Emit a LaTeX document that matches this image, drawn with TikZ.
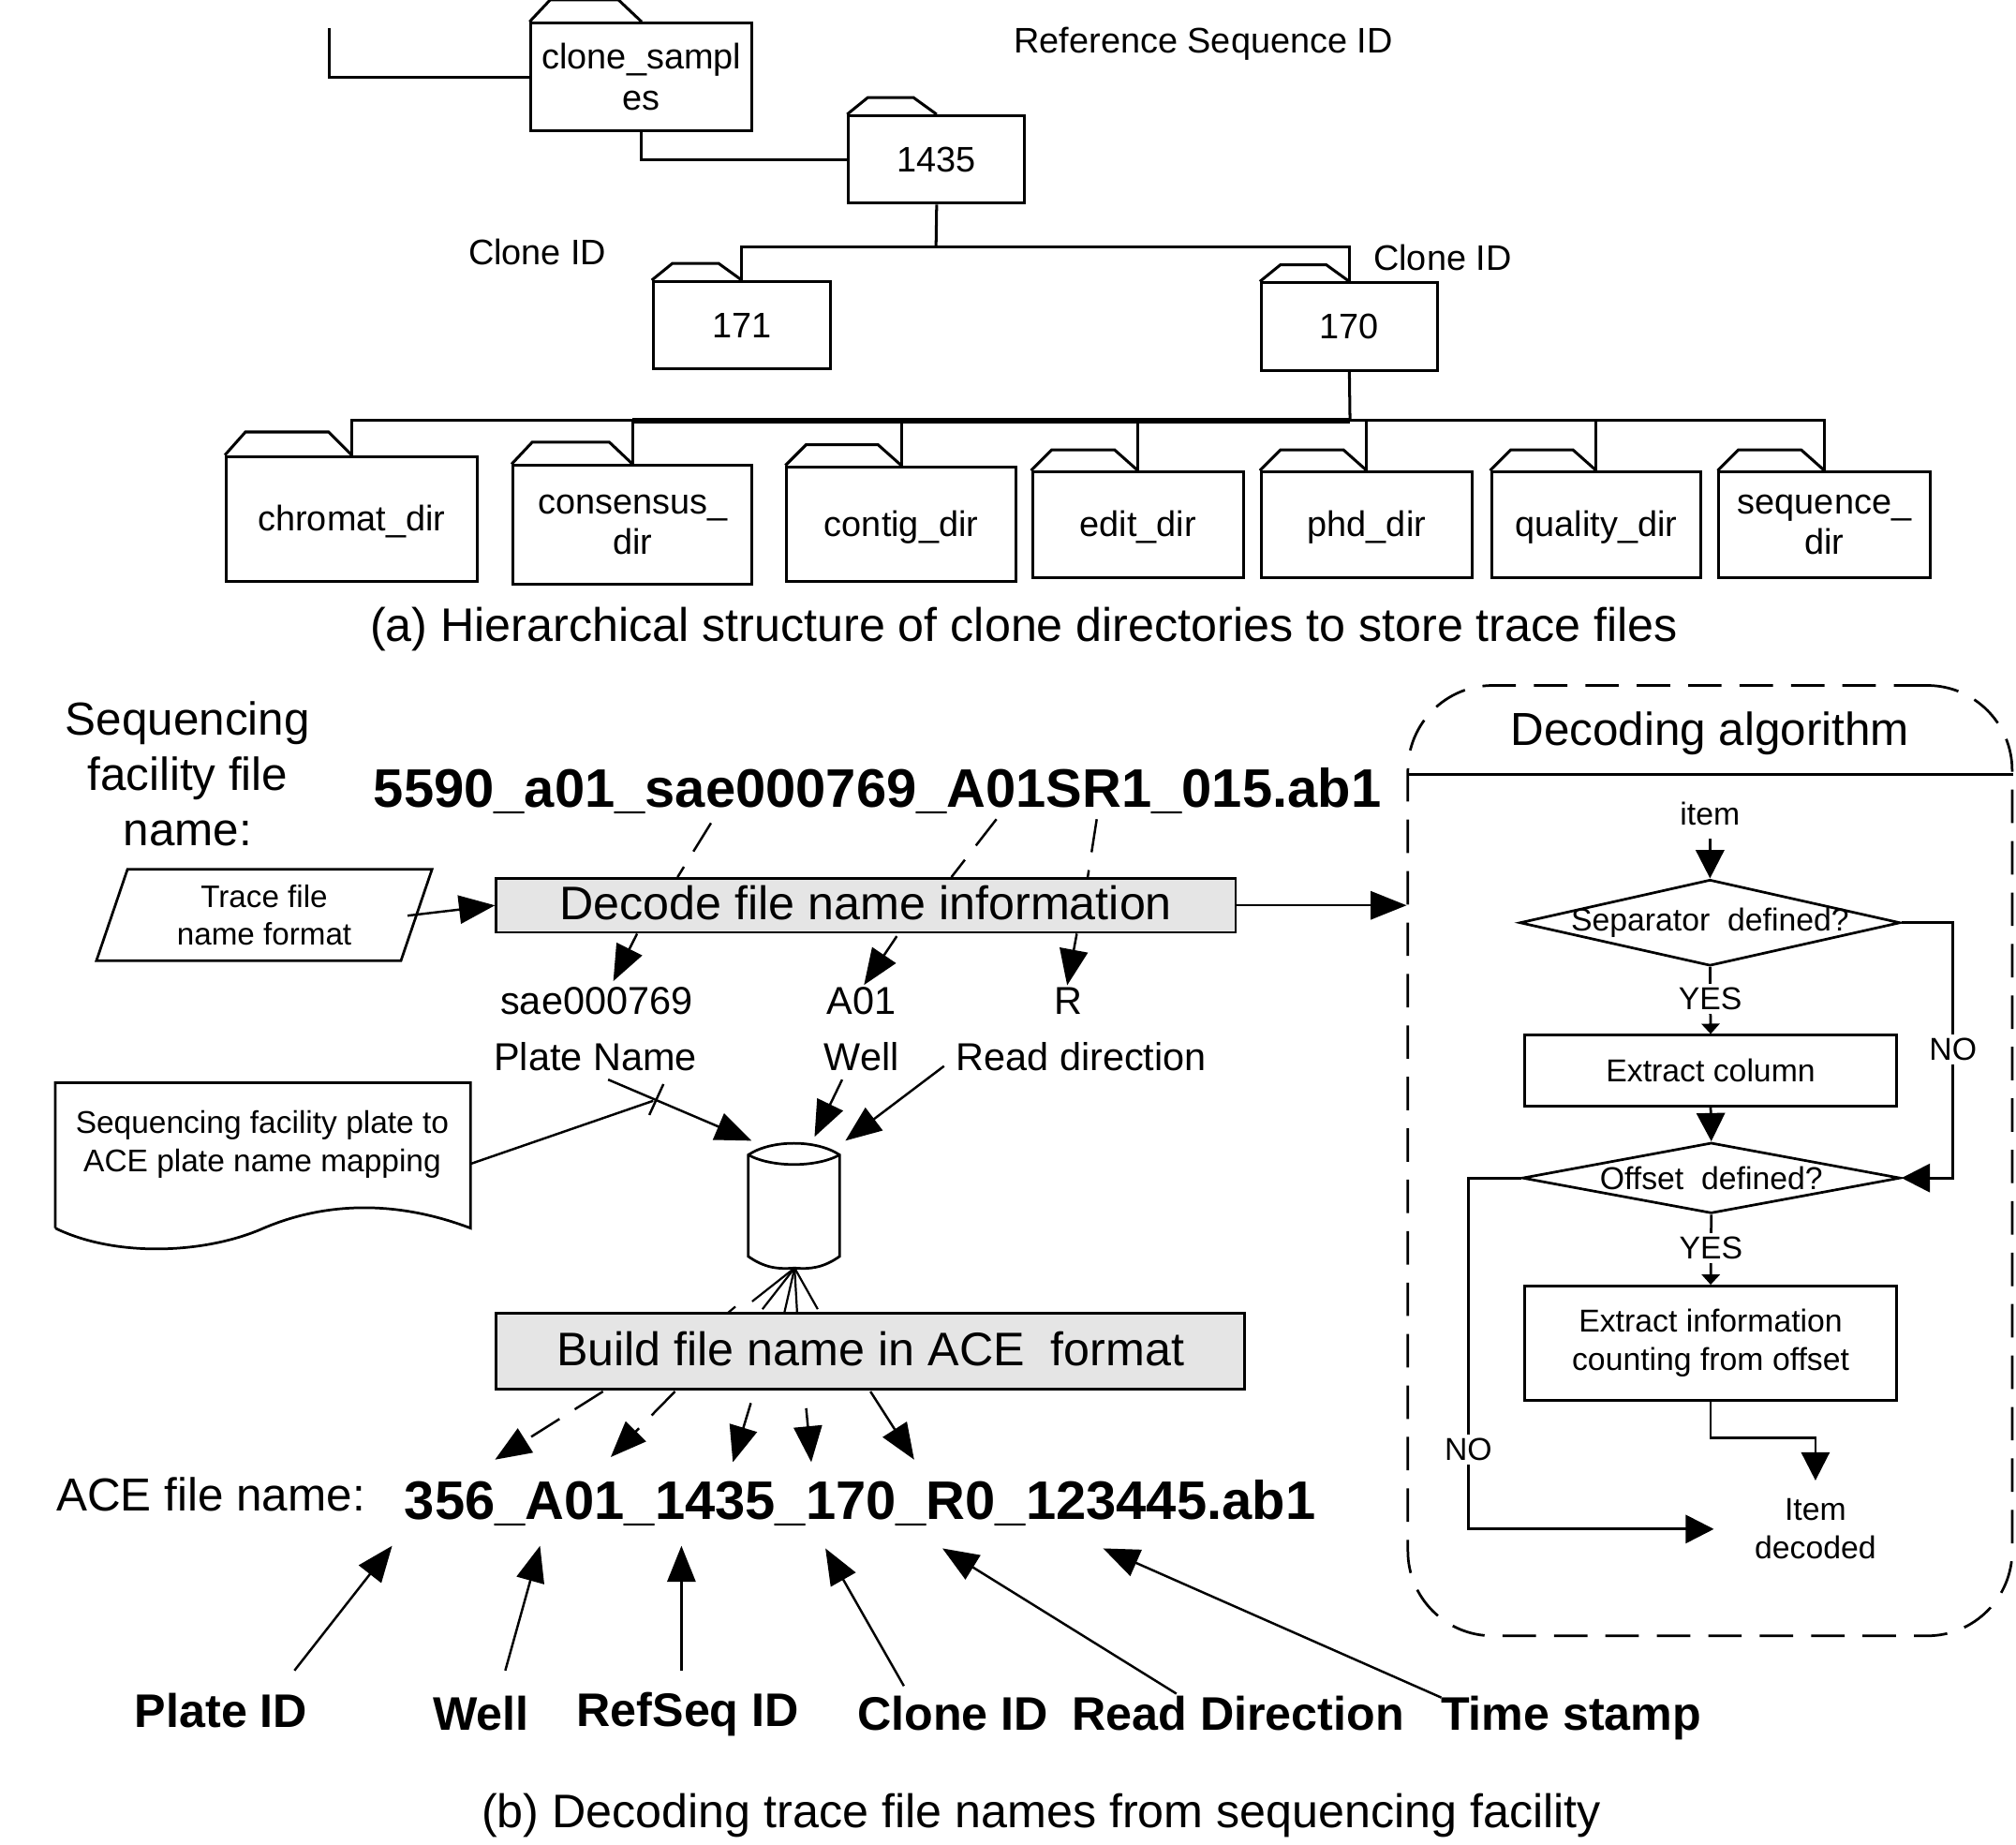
\documentclass[tikz,border=0pt]{standalone}
\usepackage{fontspec}
\setmainfont{Liberation Sans}
\usetikzlibrary{arrows.meta,calc,positioning,shapes.geometric}
\tikzset{
  every picture/.append style={line join=miter},
  dir box/.style={draw,line width=1.1pt,align=center,inner sep=0pt,font=\fontsize{13.8}{16}\selectfont},
  one line/.style={text height=12pt,text depth=2.6pt},
  dir line/.style={line width=1.1pt},
  plain text/.style={inner sep=0pt,align=center,font=\fontsize{13.8}{16}\selectfont},
  data text/.style={inner sep=0pt,align=center,font=\fontsize{15.1}{18}\selectfont},
  big text/.style={inner sep=0pt,align=center,font=\fontsize{18}{21.5}\selectfont},
  caption text/.style={inner sep=0pt,font=\fontsize{18.3}{22}\selectfont},
  file name/.style={inner sep=0pt,font=\bfseries\fontsize{21.1}{24}\selectfont},
  field name/.style={inner sep=0pt,font=\bfseries\fontsize{18.3}{22}\selectfont},
  step box/.style={draw,line width=1pt,fill=gray!20,inner sep=0pt,text depth=2pt,font=\fontsize{18.3}{22}\selectfont},
  flow box/.style={draw,line width=1pt,align=center,inner sep=0pt,font=\fontsize{12.3}{14.8}\selectfont},
  flow test/.style={draw,diamond,line width=1pt,inner sep=0pt,font=\fontsize{12.3}{15}\selectfont},
  flow label/.style={fill=white,inner sep=1.5pt,font=\fontsize{12.3}{15}\selectfont},
  big arrow/.style={line width=.9pt,-{Triangle[length=14pt,width=11pt]}},
  flow arrow/.style={line width=1pt,-{Triangle[length=11pt,width=11pt]}},
  tiny arrow/.style={line width=1pt,-{Triangle[length=4pt,width=7pt]}},
  long dash/.style={dash pattern=on 13pt off 7pt}
}
\begin{document}
\begin{tikzpicture}[x=.5pt,y=-.5pt]
\useasboundingbox (0,0) rectangle (1568,1434);
% clone directories
\node[dir box,minimum width=86pt,minimum height=42pt] (samples) at (499,60) {clone\_sampl\\es};
\node[dir box,minimum width=68.5pt,minimum height=34pt] (seqdir) at (728.5,124) {1435};
\node[dir box,minimum width=69pt,minimum height=34pt] (clonea) at (577,253) {171};
\node[dir box,minimum width=68.5pt,minimum height=34pt] (cloneb) at (1049.5,254) {170};
\node[dir box,one line,minimum width=97.5pt,minimum height=48.5pt] (chromat) at (273.5,403.5) {chromat\_dir};
\node[dir box,minimum width=93pt,minimum height=46pt] (consensus) at (492,408) {consensus\_\\dir};
\node[dir box,one line,minimum width=89pt,minimum height=44.5pt] (contig) at (701,407.5) {contig\_dir};
\node[dir box,one line,minimum width=82pt,minimum height=41pt] (edit) at (885,408) {edit\_dir};
\node[dir box,one line,minimum width=82pt,minimum height=41pt] (phd) at (1063,408) {phd\_dir};
\node[dir box,one line,minimum width=81.5pt,minimum height=41pt] (quality) at (1241.5,408) {quality\_dir};
\node[dir box,minimum width=82pt,minimum height=41pt] (sequence) at (1419,408) {sequence\_\\dir};
\foreach \n/\h in {samples/17,seqdir/13,clonea/13,cloneb/13,chromat/18,consensus/17,contig/16,edit/16,phd/16,quality/16,sequence/16}
  \draw[dir line] (\n.north west) -- ($(\n.north west)+(16,-\h)$) -- ($(\n.north)+(-18,-\h)$) -- (\n.north);
\node[plain text] (reflabel) at (936,34) {Reference Sequence ID};
\node[plain text] (idlabela) at (418,196) {Clone ID};
\node[plain text] (idlabelb) at (1122,200) {Clone ID};
\coordinate (rootend) at (256,22);
\draw[dir line] (rootend) |- (samples.west);
\draw[dir line] (samples.south) |- (seqdir.west);
\coordinate (splita) at (728,192);
\draw[dir line] (seqdir.south) -- (splita);
\draw[dir line] (clonea.north) |- (splita);
\draw[dir line] (cloneb.north) |- (splita);
\coordinate (splitb) at (1050,327);
\draw[dir line] (cloneb.south) -- (splitb);
\draw[dir line] (chromat.north) |- (splitb);
\draw[dir line,line width=2pt] (consensus.north |- splitb) -- (splitb);
\foreach \n in {consensus,contig,edit,phd,quality,sequence}
  \draw[dir line] (\n.north) |- (splitb);
\node[caption text] (captiona) at (796.5,489) {(a) Hierarchical structure of clone directories to store trace files};
% decoding of the file name
\node[big text] (seqlabel) at (146,602) {Sequencing\\facility file\\name:};
\node[file name] (seqname) at (682.5,615) {5590\_a01\_sae000769\_A01SR1\_015.ab1};
\node[step box,minimum width=287.5pt,minimum height=21pt] (decode) at (673.5,704) {Decode file name information};
\node[draw,line width=1pt,trapezium,trapezium left angle=63,trapezium right angle=117,trapezium stretches body,minimum width=130.5pt,minimum height=35.5pt,inner sep=0pt,align=center,font=\fontsize{12.1}{14.8}\selectfont] (format) at (205.5,711.5) {Trace file\\name format};
\coordinate (formatend) at (317,712);
\draw[big arrow] (formatend) -- (decode.west);
\coordinate (seqa) at (553,640);
\coordinate (seqb) at (775,637);
\coordinate (seqc) at (853,637);
\draw[line width=.9pt,long dash] (seqa) -- ($(seqa |- decode.north)+(-26,0)$);
\draw[line width=.9pt,long dash] (seqb) -- ($(seqb |- decode.north)+(-35,0)$);
\draw[line width=.9pt,long dash] (seqc) -- ($(seqc |- decode.north)+(-7,0)$);
\node[data text] (plateval) at (464,778) {sae000769};
\node[data text] (wellval) at (670,778) {A01};
\node[data text] (readval) at (831,778) {R};
\node[data text] (platekey) at (463,822) {Plate Name};
\node[data text] (wellkey) at (670,822) {Well};
\node[data text] (readkey) at (841,822) {Read direction};
\draw[big arrow] ($(decode.south)+(-178,0)$) -- ($(plateval.north)+(13,-4)$);
\draw[big arrow] ($(decode.south)+(24,2)$) -- ($(wellval.north)+(2,-1)$);
\draw[big arrow] ($(decode.south)+(164,0)$) -- ($(readval.north)+(-1,-1)$);
% database
\coordinate (dbtop) at (617.5,890);
\coordinate (dbfoot) at (618,986);
\draw[line width=1pt] (582,898) .. controls (600,886) and (635,886) .. (653,898) -- (653,977) .. controls (640,986) and (630,987) .. (dbfoot) .. controls (605,987) and (595,986) .. (582,977) -- cycle;
\draw[line width=1pt] (582,898) .. controls (600,908) and (635,908) .. (653,898);
\draw[big arrow] ($(platekey.south)+(10,6)$) -- ($(dbtop)+(-33,-3)$);
\draw[big arrow] ($(wellkey.south)+(-15,6)$) -- ($(dbtop)+(16,-6)$);
\draw[big arrow] ($(readkey.west)+(-9,7)$) -- ($(dbtop)+(40,-3)$);
\node[inner sep=0pt,align=center,font=\fontsize{12.2}{14.8}\selectfont] (maptext) at (204,890) {Sequencing facility plate to\\ACE plate name mapping};
\draw[line width=1pt] (43,955) -- (43,842) -- (366,842) -- (366,955) .. controls (300,930) and (245,938) .. (205,955) .. controls (160,975) and (90,978) .. (43,955);
\coordinate (mapedge) at (366,905);
\coordinate (mapend) at (508,856);
\draw[line width=.9pt] (mapedge) -- (mapend);
\draw[line width=.9pt] (516,843) -- (505,867);
% fan of lines under the database
\foreach \fx/\fy in {585/1012,593/1018,610/1021,620/1021,636/1018}
  \draw[line width=.8pt] (dbfoot) -- (\fx,\fy);
\draw[line width=.8pt] (572,1016) -- (566,1021);
\node[step box,minimum width=291pt,minimum height=29.5pt] (build) at (677,1050.5) {Build file name in ACE\ \ format};
% ACE file name
\node[big text] (acelabel) at (164,1162) {ACE file name:};
\node[file name] (acename) at (669,1169) {356\_A01\_1435\_170\_R0\_123445.ab1};
\coordinate (aimb) at (385,1135);
\coordinate (aimc) at (475,1133);
\coordinate (aimd) at (570,1137);
\coordinate (aime) at (631,1137);
\coordinate (aimf) at (711,1135);
\draw[big arrow,long dash] ($(build.south)+(-208,1)$) -- (aimb);
\draw[big arrow,long dash] ($(build.south)+(-152,1)$) -- (aimc);
\draw[big arrow] ($(build.south)+(-93,10)$) -- (aimd);
\draw[big arrow] ($(build.south)+(-50,14)$) -- (aime);
\draw[big arrow] ($(build.south)+(0,1)$) -- (aimf);
% field names
\node[field name] (fplate) at (172,1330) {Plate ID};
\node[field name] (fwell) at (374,1332) {Well};
\node[field name] (frefseq) at (535,1333) {RefSeq ID};
\node[field name] (fclone) at (741,1332) {Clone ID};
\node[field name] (fread) at (963,1332) {Read Direction};
\node[field name] (ftime) at (1222,1336) {Time stamp};
\coordinate (hita) at (305,1202);
\coordinate (hitb) at (420,1202);
\coordinate (hitc) at (530,1202);
\coordinate (hitd) at (642,1204);
\coordinate (hite) at (733,1204);
\coordinate (hitf) at (858,1204);
\coordinate (taila) at (229,1299);
\coordinate (tailb) at (393,1299);
\coordinate (tailc) at (530,1299);
\coordinate (taild) at (703,1311);
\coordinate (taile) at (915,1317);
\coordinate (tailf) at (1121,1320);
\draw[big arrow] (taila) -- (hita);
\draw[big arrow] (tailb) -- (hitb);
\draw[big arrow] (tailc) -- (hitc);
\draw[big arrow] (taild) -- (hitd);
\draw[big arrow] (taile) -- (hite);
\draw[big arrow] (tailf) -- (hitf);
\node[caption text] (captionb) at (810,1412) {(b) Decoding trace file names from sequencing facility};
% decoding algorithm
\node[draw,line width=1pt,long dash,rounded corners=33pt,minimum width=235pt,minimum height=369.5pt] (algo) at (1330,902.5) {};
\coordinate (headleft) at (1095,602);
\draw[line width=1pt] (headleft) -- (headleft -| algo.east);
\node[big text] (algotitle) at (1330,570) {Decoding algorithm};
\draw[big arrow] (decode.east) -- (decode.east -| algo.west);
\node[inner sep=0pt,font=\fontsize{12.3}{15}\selectfont] (item) at (1330,633) {item};
\node[flow test,aspect=4.42,minimum width=148pt,minimum height=33.5pt] (testa) at (1330,717.5) {\makebox[0pt]{Separator\ \ defined?}};
\node[flow box,minimum width=144.5pt,minimum height=27.5pt] (column) at (1330.5,832.5) {Extract column};
\node[flow test,aspect=5.35,minimum width=147pt,minimum height=27.5pt] (testb) at (1331,916) {\makebox[0pt]{Offset\ \ defined?}};
\node[flow box,minimum width=144.5pt,minimum height=44.5pt] (info) at (1330.5,1044.5) {Extract information\\counting from offset};
\node[inner sep=0pt,align=center,font=\fontsize{12.3}{14.8}\selectfont] (done) at (1412,1189) {Item\\decoded};
\draw[flow arrow] ($(item.south)+(0,10)$) -- (testa.north);
\draw[tiny arrow] (testa.south) -- node[flow label,pos=.48] (yesa) {YES} (column.north);
\draw[flow arrow] (column.south) -- (testb.north);
\draw[tiny arrow] (testb.south) -- node[flow label,pos=.48] (yesb) {YES} (info.north);
\coordinate (bendr) at (1519,816);
\draw[line width=1pt] (testa.east) -| (bendr);
\draw[flow arrow] (bendr) |- (testb.east);
\node[flow label] (nor) at (bendr) {NO};
\draw[flow arrow] (info.south) |- (1412,1118) -- ($(done.north)+(0,-14)$);
\coordinate (bendl) at (1142,1127);
\draw[line width=1pt] (testb.west) -| (bendl);
\draw[flow arrow] (bendl) |- (1333,1189);
\node[flow label] (nol) at (bendl) {NO};
\end{tikzpicture}
\end{document}
